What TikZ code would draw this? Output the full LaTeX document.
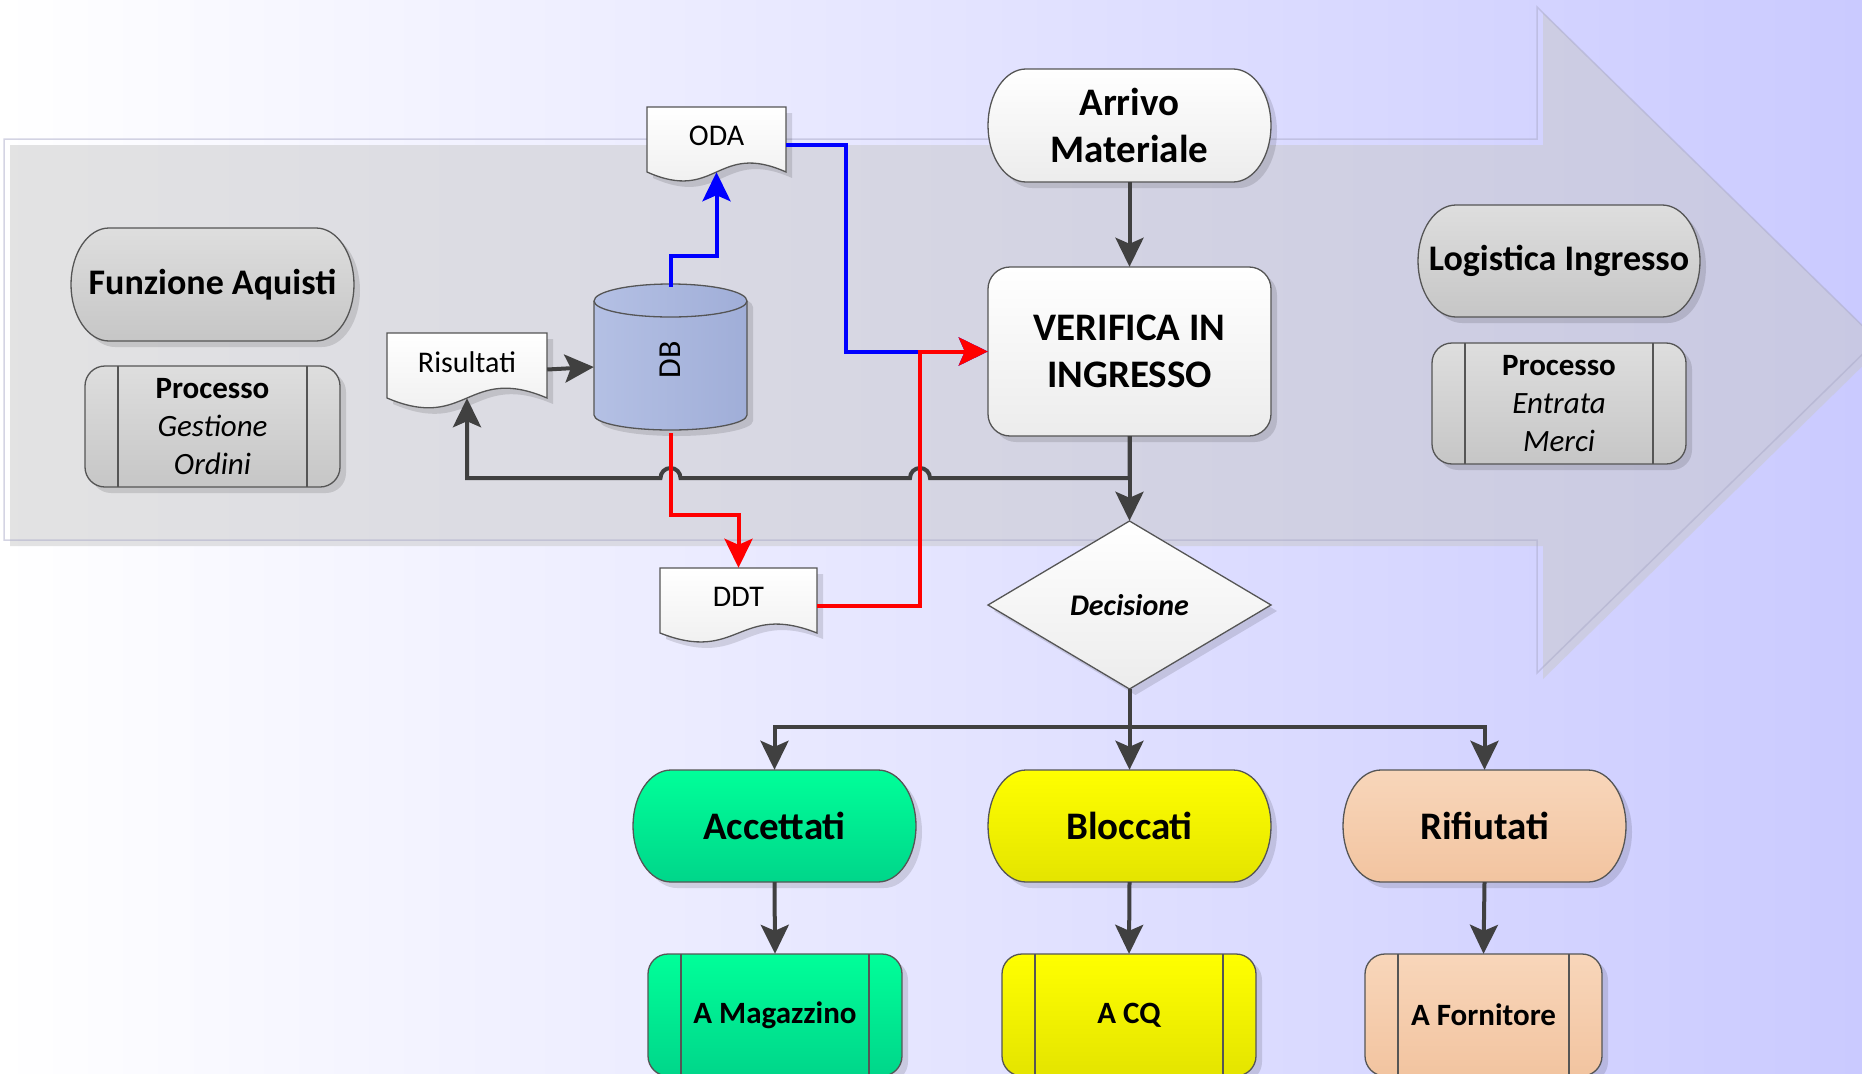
\documentclass[tikz,border=0pt]{standalone}
\usepackage{fontspec}
\setmainfont{Carlito}
\usetikzlibrary{arrows.meta,shadows}

\definecolor{bgR}{RGB}{202,202,255}
\definecolor{bandFill}{RGB}{200,200,200}
\definecolor{bandLine}{RGB}{170,170,200}
\definecolor{nodeborder}{RGB}{85,85,85}
\definecolor{greyTop}{RGB}{222,222,222}
\definecolor{greyBot}{RGB}{198,198,198}
\definecolor{whiteBot}{RGB}{236,236,236}
\definecolor{dbL}{RGB}{180,192,228}
\definecolor{dbR}{RGB}{160,174,216}
\definecolor{accTop}{RGB}{0,255,153}
\definecolor{accBot}{RGB}{0,214,138}
\definecolor{bloTop}{RGB}{255,255,0}
\definecolor{bloBot}{RGB}{228,228,0}
\definecolor{rifTop}{RGB}{248,214,186}
\definecolor{rifBot}{RGB}{242,196,160}
\definecolor{flowgray}{RGB}{64,64,64}
\definecolor{flowblue}{RGB}{0,0,255}
\definecolor{flowred}{RGB}{255,0,0}

% terminal (stadium) with half-elliptic ends: name, x, y, w, h, shape style, text style, text
\newcommand\terminal[8]{%
  \pgfmathsetmacro\tL{#2-#4/2}\pgfmathsetmacro\tR{#2+#4/2}%
  \pgfmathsetmacro\tT{#3-#5/2}\pgfmathsetmacro\tB{#3+#5/2}%
  \pgfmathsetmacro\tRy{#5/2}%
  \path[#6] (\tL+38,\tT) -- (\tR-38,\tT)
    arc[start angle=90, end angle=-90, x radius=38pt, y radius=\tRy pt]
    -- (\tL+38,\tB)
    arc[start angle=270, end angle=90, x radius=38pt, y radius=\tRy pt] -- cycle;
  \node[#7, minimum width=#4pt, minimum height=#5pt] (#1) at (#2,#3) {#8};
}

% predefined process box: name, x, y, w, h, shape style, text style, text
\newcommand\procbox[8]{%
  \pgfmathsetmacro\tL{#2-#4/2}\pgfmathsetmacro\tR{#2+#4/2}%
  \pgfmathsetmacro\tT{#3-#5/2}\pgfmathsetmacro\tB{#3+#5/2}%
  \path[#6, rounded corners=20pt] (\tL,\tT) rectangle (\tR,\tB);
  \draw[nodeline] (\tL+33,\tT) -- (\tL+33,\tB) (\tR-33,\tT) -- (\tR-33,\tB);
  \node[#7, minimum width=#4pt, minimum height=#5pt] (#1) at (#2,#3) {#8};
}

% document shape with wavy bottom: name, x1, y1, x2, y-bottom, wave control, text
\newcommand\docshape[7]{%
  \pgfmathsetmacro\dM{(#2+#4)/2}\pgfmathsetmacro\dC{(#3+#5)/2}%
  \pgfmathsetmacro\dW{#4-#2}\pgfmathsetmacro\dH{#5-#3}%
  \path[whitefill] (#2,#3) -- (#4,#3) -- (#4,#5)
    .. controls (\dM,#5-#6) and (\dM,#5+#6) .. (#2,#5) -- cycle;
  \node[doctext, minimum width=\dW pt, minimum height=\dH pt] (#1) at (\dM,\dC) {\raisebox{6.5pt}{#7}};
}

\begin{document}
\begin{tikzpicture}[x=1pt, y=-1pt,
  nodeline/.style={draw=nodeborder, line width=1.3pt},
  softshadow/.style={drop shadow={shadow xshift=6pt, shadow yshift=-6pt, opacity=0.12, fill=black}},
  greyfill/.style={nodeline, softshadow, top color=greyTop, bottom color=greyBot},
  whitefill/.style={nodeline, softshadow, top color=white, bottom color=whiteBot},
  greenfill/.style={nodeline, softshadow, top color=accTop, bottom color=accBot},
  yellowfill/.style={nodeline, softshadow, top color=bloTop, bottom color=bloBot},
  peachfill/.style={nodeline, softshadow, top color=rifTop, bottom color=rifBot},
  dbfill/.style={nodeline, softshadow, left color=dbL, right color=dbR},
  label/.style={inner sep=0pt, align=center, text=black},
  title/.style={label, font=\fontsize{36}{44}\selectfont\bfseries},
  bigtitle/.style={label, font=\fontsize{39}{47.5}\selectfont\bfseries},
  decisiontext/.style={label, font=\fontsize{30}{36}\selectfont\bfseries\itshape},
  proctext/.style={label, font=\fontsize{31}{38}\selectfont},
  proctextbold/.style={label, font=\fontsize{31}{38}\selectfont\bfseries},
  doctext/.style={label, font=\fontsize{30}{36}\selectfont},
  flow/.style={draw=flowgray, color=flowgray, line width=4pt,
    -{Stealth[length=29pt, width=28pt, inset=6pt]}},
  blueflow/.style={flow, draw=flowblue, color=flowblue},
  redflow/.style={flow, draw=flowred, color=flowred}]

\useasboundingbox (0,0) rectangle (1862,1073);
\clip (0,0) rectangle (1862,1073);

% backdrop
\shade[left color=white, right color=bgR] (0,0) rectangle (1862,1073);

% large process arrow: offset shadow body, then its outline
\fill[fill=bandFill, fill opacity=0.5]
  (10,145) -- (1543,145) -- (1543,13) -- (1883,346) -- (1543,679) -- (1543,546) -- (10,546) -- cycle;
\draw[draw=bandLine, draw opacity=0.5, line width=1.5pt]
  (4,139) -- (1537,139) -- (1537,7) -- (1877,340) -- (1537,673) -- (1537,540) -- (4,540) -- cycle;

% left lane labels
\terminal{fa}{212.5}{284.5}{283}{113}{greyfill}{title}{Funzione Aquisti}
\procbox{go}{212.5}{426.5}{255}{121}{greyfill}{proctext}{\textbf{Processo}\\\textit{Gestione}\\\textit{Ordini}}

% right lane labels
\terminal{li}{1559}{261}{282}{112}{greyfill}{title}{Logistica Ingresso}
\procbox{em}{1559}{403.5}{254}{121}{greyfill}{proctext}{\textbf{Processo}\\\textit{Entrata}\\\textit{Merci}}

% documents
\docshape{oda}{647}{107}{786}{172}{31}{ODA}
\docshape{ris}{387}{333}{547}{398}{34}{Risultati}
\docshape{ddt}{660}{568}{817}{633}{31}{DDT}

% database cylinder
\path[dbfill] (594,301) -- (594,415)
  arc[start angle=180, end angle=360, x radius=76.5pt, y radius=15pt]
  -- (747,301)
  arc[start angle=0, end angle=180, x radius=76.5pt, y radius=17pt] -- cycle;
\draw[nodeline] (594,301) arc[start angle=180, end angle=360, x radius=76.5pt, y radius=16pt];
\node[doctext, font=\fontsize{32}{38}\selectfont, minimum width=153pt, minimum height=146pt] (db) at (670.5,360) {\rotatebox{90}{DB}};

% main flow
\terminal{arr}{1129.5}{125.5}{283}{113}{whitefill}{bigtitle}{Arrivo\\Materiale}
\path[whitefill, rounded corners=22pt] (988,267) rectangle (1271,436);
\node[bigtitle, minimum width=283pt, minimum height=169pt] (ver) at (1129.5,351.5) {VERIFICA IN\\INGRESSO};
\path[whitefill] (1129.5,521) -- (1271,605) -- (1129.5,689) -- (988,605) -- cycle;
\node[decisiontext, minimum width=283pt, minimum height=168pt] (dec) at (1129.5,605) {Decisione};

% outcomes
\terminal{acc}{774.5}{826}{283}{112}{greenfill}{bigtitle}{Accettati}
\terminal{blo}{1129.5}{826}{283}{112}{yellowfill}{bigtitle}{Bloccati}
\terminal{rif}{1484.5}{826}{283}{112}{peachfill}{bigtitle}{Rifiutati}
\procbox{mag}{775}{1015}{254}{122}{greenfill}{proctextbold}{A Magazzino}
\procbox{cq}{1129}{1015}{254}{122}{yellowfill}{proctextbold}{A CQ}
\procbox{forn}{1483.5}{1015}{237}{122}{peachfill}{proctextbold}{A Fornitore}

% connectors
\coordinate (hopline) at (1129.5,478);
\coordinate (fork) at (1129.5,727);

\draw[flow] (arr.south) -- (ver.north);
\draw[flow] (ver.south) -- (dec.north);
\draw[flow] (ver.south) -- (hopline) -- (930,478)
  arc[start angle=0, end angle=180, radius=10pt] -- (680.5,478)
  arc[start angle=0, end angle=180, radius=10pt] -- (ris.south |- hopline) -- (ris.south);
\draw[flow] ([yshift=-4pt]ris.east) -- ([yshift=-7pt]db.west);

\draw[blueflow] (db.north) -- (670.5,256) -| (oda.south);
\draw[blueflow] ([yshift=-5pt]oda.east) -| (846,351.5) -- (ver.west);
\draw[redflow] (db.south) -- (670.5,515) -| (ddt.north);
\draw[redflow] ([yshift=-5.5pt]ddt.east) -| (920,351.5) -- (ver.west);

\draw[flow] (dec.south) -- (blo.north);
\draw[flow] (fork) -| (acc.north);
\draw[flow] (fork) -| (rif.north);
\draw[flow] (acc.south) -- (mag.north);
\draw[flow] (blo.south) -- (cq.north);
\draw[flow] (rif.south) -- (forn.north);

\end{tikzpicture}
\end{document}
